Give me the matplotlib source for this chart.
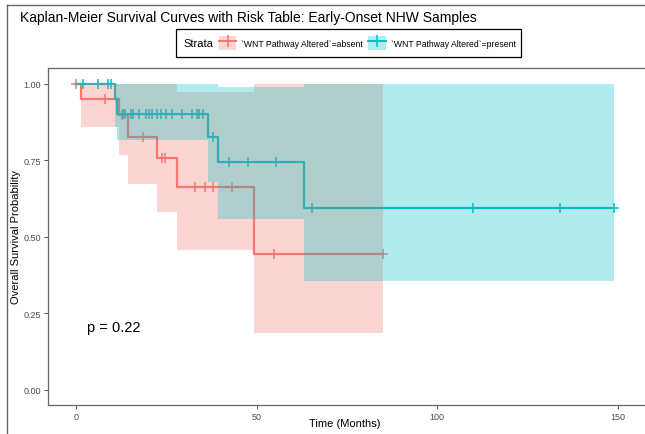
import matplotlib
matplotlib.use('Agg')
import matplotlib.pyplot as plt
from matplotlib.lines import Line2D
from matplotlib.patches import Patch, Rectangle

plt.rcParams['font.family'] = ['Liberation Sans', 'DejaVu Sans']

RED = '#F8766D'
TEAL = '#00BFC4'

# step curves (time in months, survival probability)
absent_time = [0, 1.4, 11.9, 14.4, 22.5, 27.9, 49.2]
absent_surv = [1.0, 0.95, 0.897, 0.828, 0.759, 0.664, 0.443]
absent_lower = [1.0, 0.858, 0.766, 0.673, 0.582, 0.458, 0.184]
absent_upper = [1.0, 1.0, 1.0, 1.0, 1.0, 0.975, 1.0]
absent_end = 85.1
absent_cens_t = [0, 7.9, 12.6, 18.6, 23.7, 24.7, 33.0, 35.7, 37.8, 43.2, 54.8, 85.1]

present_time = [0, 10.8, 11.4, 36.4, 39.4, 63.2]
present_surv = [1.0, 0.951, 0.902, 0.826, 0.744, 0.595]
present_lower = [1.0, 0.86, 0.815, 0.68, 0.559, 0.354]
present_upper = [1.0, 1.0, 1.0, 1.0, 0.99, 1.0]
present_end = 148.8
present_cens_t = [1.8, 6.0, 8.8, 9.6, 13.1, 13.6, 15.2, 15.9, 17.4, 19.3, 20.3,
                  21.0, 22.3, 23.5, 24.9, 26.5, 29.3, 32.2, 33.4, 34.1, 35.1,
                  37.8, 42.4, 47.7, 55.4, 65.4, 109.9, 134.1, 148.8]

labels = ['`WNT Pathway Altered`=absent', '`WNT Pathway Altered`=present']
x_ticks = [0, 50, 100, 150]
y_ticks = [0.0, 0.25, 0.5, 0.75, 1.0]


def surv_at(times, surv, t):
    s = surv[0]
    for ti, si in zip(times, surv):
        if t >= ti:
            s = si
    return s


fig = plt.figure(figsize=(6.45, 4.35), dpi=100)
ax = fig.add_axes([48 / 645, 1 - 406 / 435, (645 - 48) / 645, (406 - 69) / 435])

groups = [
    (absent_time, absent_surv, absent_lower, absent_upper, absent_end, absent_cens_t, RED),
    (present_time, present_surv, present_lower, present_upper, present_end, present_cens_t, TEAL),
]

for times, surv, lo, up, end, cens, col in groups:
    t = times + [end]
    ax.step(t, surv + [surv[-1]], where='post', color=col, lw=1.6, zorder=2)
    cy = [surv_at(times, surv, c) for c in cens]
    ax.plot(cens, cy, ls='none', marker='+', ms=7, mew=1.1, color=col, zorder=2)

for times, surv, lo, up, end, cens, col in groups:
    t = times + [end]
    ax.fill_between(t, lo + [lo[-1]], up + [up[-1]], step='post',
                    color=col, alpha=0.3, lw=0, zorder=3)

ax.text(3.0, 0.205, 'p = 0.22', fontsize=10.5, ha='left', va='center')

ax.set_xlim(-7.75, 157.5)
ax.set_ylim(-0.05, 1.052)
ax.set_xticks(x_ticks)
ax.set_xticklabels([str(v) for v in x_ticks])
ax.set_yticks(y_ticks)
ax.set_yticklabels(['%.2f' % v for v in y_ticks])
ax.tick_params(colors='#333333', labelcolor='#4d4d4d', labelsize=6.5,
               length=3, width=0.6, pad=2)
for s in ['left', 'bottom', 'top']:
    ax.spines[s].set_color('#666666')
    ax.spines[s].set_linewidth(0.9)
ax.spines['right'].set_visible(False)
ax.set_xlabel('Time (Months)', fontsize=8)
ax.set_ylabel('Overall Survival Probability', fontsize=8)
ax.xaxis.set_label_coords((345 - 48) / 597, -(419 - 406) / 337)
ax.yaxis.set_label_coords(-(48 - 21) / 597, 0.5)

fig.text(20 / 645, 1 - 18 / 435, 'Kaplan-Meier Survival Curves with Risk Table: Early-Onset NHW Samples',
         fontsize=10, ha='left', va='center')

# figure border (left and top visible)
fig.add_artist(Line2D([7 / 645, 7 / 645], [0, 1 - 6 / 435], color='#666666', lw=1.0))
fig.add_artist(Line2D([7 / 645, 1], [1 - 6 / 435, 1 - 6 / 435], color='#666666', lw=1.0))

# legend
fig.add_artist(Rectangle((176 / 645, 1 - 58 / 435), (521 - 176) / 645, 28 / 435,
                         transform=fig.transFigure, fill=False, ec='black', lw=0.9))
fig.text(183 / 645, 1 - 44 / 435, 'Strata', fontsize=8, ha='left', va='center')
handles = [
    (Patch(facecolor=RED, alpha=0.3, lw=0),
     Line2D([], [], color=RED, lw=1.4, marker='|', ms=8, mew=1.1)),
    (Patch(facecolor=TEAL, alpha=0.3, lw=0),
     Line2D([], [], color=TEAL, lw=1.4, marker='|', ms=8, mew=1.1)),
]
fig.legend(handles, labels, ncol=2, loc='center left',
           bbox_to_anchor=(213 / 645, 1 - 44 / 435), frameon=False,
           fontsize=6.2, handlelength=2.0, handleheight=2.0,
           handletextpad=0.6, columnspacing=0.6, borderpad=0.2)

fig.savefig('out.png', dpi=100)
